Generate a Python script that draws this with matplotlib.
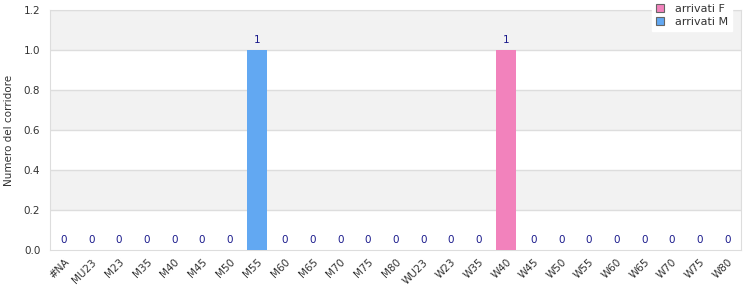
import matplotlib
matplotlib.use("Agg")
import matplotlib.pyplot as plt
from matplotlib.patches import Rectangle
import numpy as np

categories = ["#NA", "MU23", "M23", "M35", "M40", "M45", "M50", "M55", "M60", "M65",
              "M70", "M75", "M80", "WU23", "W23", "W35", "W40", "W45", "W50", "W55",
              "W60", "W65", "W70", "W75", "W80"]
arrivati_F = [0, 0, 0, 0, 0, 0, 0, 0, 0, 0, 0, 0, 0, 0, 0, 0, 1, 0, 0, 0, 0, 0, 0, 0, 0]
arrivati_M = [0, 0, 0, 0, 0, 0, 0, 1, 0, 0, 0, 0, 0, 0, 0, 0, 0, 0, 0, 0, 0, 0, 0, 0, 0]
y_ticks = [0.0, 0.2, 0.4, 0.6, 0.8, 1.0, 1.2]

colF = "#f282bc"
colM = "#62a8f2"

fig = plt.figure(figsize=(7.5, 3.0), dpi=100)
ax = fig.add_axes([50/750, 50/300, 691/750, 240/300])

x = np.arange(len(categories))
F = np.array(arrivati_F)
M = np.array(arrivati_M)
w = 0.72
ax.bar(x, M, width=w, color=colM, zorder=3, label="arrivati M")
ax.bar(x, F, width=w, bottom=M, color=colF, zorder=3, label="arrivati F")

# bands
for i in range(len(y_ticks) - 1):
    if i % 2 == 1:
        ax.axhspan(y_ticks[i], y_ticks[i + 1], color="#f2f2f2", zorder=0, lw=0)
for t in y_ticks[1:]:
    ax.axhline(t, color="#dddddd", lw=1, zorder=1)

tot = F + M
for xi, v in zip(x, tot):
    ax.text(xi, v + 0.025, f"{v:d}", ha="center", va="bottom", fontsize=7.5,
            color="#1a1a8c", zorder=4)

ax.set_xlim(-0.5, len(categories) - 0.5)
ax.set_ylim(0, 1.2)
ax.set_yticks(y_ticks)
ax.set_yticklabels([f"{t:.1f}" for t in y_ticks])
ax.set_xticks(x)
ax.set_xticklabels(categories, rotation=45, ha="right", rotation_mode="anchor")
ax.tick_params(axis="both", length=0, labelsize=7.5, colors="#333333")
ax.tick_params(axis="x", pad=5)
ax.tick_params(axis="y", pad=7)
for s in ax.spines.values():
    s.set_color("#dddddd")
ax.set_ylabel("Numero del corridore", fontsize=7.5, color="#333333")
ax.yaxis.set_label_coords(-36/691, 0.5)

h = [Rectangle((0, 0), 1, 1, facecolor=colF, edgecolor="#666666", lw=0.8),
     Rectangle((0, 0), 1, 1, facecolor=colM, edgecolor="#666666", lw=0.8)]
leg = fig.legend(h, ["arrivati F", "arrivati M"], loc="upper left",
                 bbox_to_anchor=(652/750, 1.0), frameon=True, fontsize=8,
                 handlelength=0.75, handleheight=0.75, handletextpad=1.0,
                 borderpad=0.35, labelspacing=0.3, fancybox=False, borderaxespad=0)
leg.get_frame().set_edgecolor("white")
leg.get_frame().set_facecolor("white")
leg.get_frame().set_alpha(1)
for t in leg.get_texts():
    t.set_color("#333333")

fig.savefig("out.png", dpi=100)
